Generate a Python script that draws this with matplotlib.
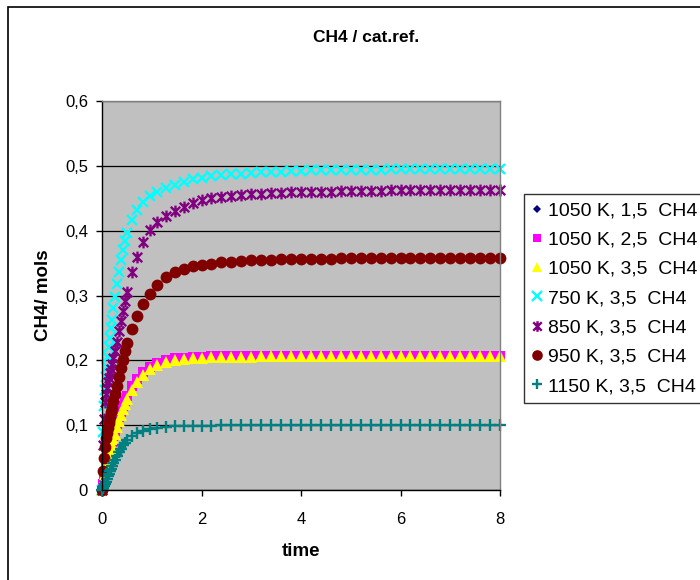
import matplotlib
matplotlib.use("Agg")
import matplotlib.pyplot as plt
from matplotlib.path import Path
from matplotlib.patches import Rectangle

plt.rcParams['font.family'] = ['Liberation Sans', 'DejaVu Sans']

# ---------------- data ----------------
time = [0, 0.02, 0.04, 0.06, 0.08, 0.10, 0.12, 0.14, 0.16, 0.18,
        0.20, 0.23, 0.26, 0.30, 0.34, 0.38, 0.42, 0.46, 0.50, 0.60,
        0.70, 0.82, 0.96, 1.10, 1.28, 1.46, 1.64, 1.82,
        2.0, 2.2, 2.4, 2.6, 2.8, 3.0, 3.2, 3.4, 3.6, 3.8,
        4.0, 4.2, 4.4, 4.6, 4.8, 5.0, 5.2, 5.4, 5.6, 5.8,
        6.0, 6.2, 6.4, 6.6, 6.8, 7.0, 7.2, 7.4, 7.6, 7.8, 8.0]

s1050_15 = [0, 0.009, 0.018, 0.026, 0.034, 0.041, 0.048, 0.055, 0.062, 0.068,
            0.074, 0.083, 0.091, 0.102, 0.112, 0.121, 0.13, 0.137, 0.145, 0.16,
            0.171, 0.182, 0.19, 0.196, 0.2, 0.203, 0.204, 0.205,
            0.2055, 0.206, 0.206, 0.2065, 0.2065, 0.207, 0.207, 0.207, 0.207, 0.207,
            0.207, 0.207, 0.207, 0.207, 0.207, 0.207, 0.207, 0.207, 0.207, 0.207,
            0.207, 0.207, 0.207, 0.207, 0.207, 0.207, 0.207, 0.207, 0.207, 0.207, 0.207]

s1050_25 = [0, 0.009, 0.018, 0.026, 0.034, 0.041, 0.048, 0.055, 0.062, 0.068,
            0.074, 0.083, 0.091, 0.102, 0.112, 0.121, 0.13, 0.137, 0.145, 0.16,
            0.171, 0.182, 0.19, 0.196, 0.2, 0.203, 0.204, 0.205,
            0.2055, 0.206, 0.206, 0.2065, 0.2065, 0.207, 0.207, 0.207, 0.207, 0.207,
            0.207, 0.207, 0.207, 0.207, 0.207, 0.207, 0.207, 0.207, 0.207, 0.207,
            0.207, 0.207, 0.207, 0.207, 0.207, 0.207, 0.207, 0.207, 0.207, 0.207, 0.207]

s1050_35 = [0, 0.008, 0.016, 0.024, 0.031, 0.038, 0.045, 0.051, 0.058, 0.064,
            0.07, 0.079, 0.087, 0.097, 0.107, 0.116, 0.125, 0.132, 0.14, 0.155,
            0.167, 0.178, 0.187, 0.193, 0.197, 0.2, 0.202, 0.203,
            0.204, 0.2045, 0.205, 0.205, 0.2055, 0.2055, 0.206, 0.206, 0.206, 0.206,
            0.206, 0.206, 0.206, 0.206, 0.206, 0.206, 0.206, 0.206, 0.206, 0.206,
            0.206, 0.206, 0.206, 0.206, 0.206, 0.206, 0.206, 0.206, 0.206, 0.206, 0.206]

s750_35 = [0, 0.09, 0.13, 0.155, 0.175, 0.19, 0.205, 0.22, 0.235, 0.25,
           0.262, 0.28, 0.297, 0.318, 0.337, 0.355, 0.37, 0.384, 0.396, 0.417,
           0.432, 0.444, 0.453, 0.46, 0.466, 0.471, 0.475, 0.479,
           0.482, 0.484, 0.486, 0.487, 0.488, 0.489, 0.490, 0.491, 0.491, 0.492,
           0.492, 0.493, 0.493, 0.493, 0.494, 0.494, 0.494, 0.494, 0.494, 0.495,
           0.495, 0.495, 0.495, 0.495, 0.495, 0.495, 0.495, 0.495, 0.495, 0.495, 0.495]

s850_35 = [0, 0.07, 0.11, 0.135, 0.148, 0.158, 0.166, 0.173, 0.18, 0.187,
           0.194, 0.204, 0.215, 0.229, 0.245, 0.26, 0.276, 0.291, 0.306, 0.336,
           0.36, 0.383, 0.401, 0.413, 0.422, 0.43, 0.437, 0.442,
           0.447, 0.450, 0.452, 0.454, 0.455, 0.456, 0.457, 0.458, 0.458, 0.459,
           0.459, 0.460, 0.460, 0.460, 0.461, 0.461, 0.461, 0.461, 0.461, 0.462,
           0.462, 0.462, 0.462, 0.462, 0.462, 0.462, 0.462, 0.462, 0.462, 0.462, 0.462]

s950_35 = [0, 0.03, 0.05, 0.066, 0.08, 0.088, 0.096, 0.104, 0.112, 0.12,
           0.127, 0.137, 0.148, 0.161, 0.175, 0.188, 0.2, 0.214, 0.226, 0.248,
           0.268, 0.287, 0.303, 0.316, 0.329, 0.336, 0.341, 0.345,
           0.347, 0.349, 0.351, 0.352, 0.353, 0.354, 0.355, 0.355, 0.356, 0.356,
           0.357, 0.357, 0.357, 0.357, 0.358, 0.358, 0.358, 0.358, 0.358, 0.358,
           0.358, 0.358, 0.358, 0.358, 0.358, 0.358, 0.358, 0.358, 0.358, 0.358, 0.358]

s1150_35 = [0, 0.003, 0.006, 0.009, 0.013, 0.017, 0.021, 0.025, 0.029, 0.033,
            0.037, 0.042, 0.047, 0.053, 0.059, 0.064, 0.069, 0.073, 0.077, 0.083,
            0.088, 0.091, 0.094, 0.096, 0.097, 0.098, 0.0985, 0.099,
            0.099, 0.099, 0.0995, 0.0995, 0.0995, 0.0995, 0.0995, 0.0995, 0.0995, 0.0995,
            0.0995, 0.0995, 0.0995, 0.0995, 0.0995, 0.0995, 0.0995, 0.0995, 0.0995, 0.0995,
            0.0995, 0.0995, 0.0995, 0.0995, 0.0995, 0.0995, 0.0995, 0.0995, 0.0995, 0.0995, 0.0995]

labels = ["1050 K, 1,5  CH4", "1050 K, 2,5  CH4", "1050 K, 3,5  CH4",
          "750 K, 3,5  CH4", "850 K, 3,5  CH4", "950 K, 3,5  CH4",
          "1150 K, 3,5  CH4"]

yticks = [0, 0.1, 0.2, 0.3, 0.4, 0.5, 0.6]
ytick_labels = ["0", "0,1", "0,2", "0,3", "0,4", "0,5", "0,6"]
xticks = [0, 2, 4, 6, 8]
xtick_labels = ["0", "2", "4", "6", "8"]

# ---------------- styling ----------------
asterisk = Path([(-1, -1), (1, 1), (-1, 1), (1, -1), (0, -1.25), (0, 1.25)],
                [Path.MOVETO, Path.LINETO, Path.MOVETO, Path.LINETO,
                 Path.MOVETO, Path.LINETO])

series = [
    (s1050_15, dict(marker='D', color='#000080', ms=4.5, mew=0)),
    (s1050_25, dict(marker='s', color='#FF00FF', ms=7.0, mew=0)),
    (s1050_35, dict(marker='^', color='#FFFF00', ms=8.0, mew=0)),
    (s750_35, dict(marker='x', color='#00FFFF', ms=7.8, mew=1.7)),
    (s850_35, dict(marker=asterisk, color='#800080', ms=8.5, mew=1.7, mfc='none')),
    (s950_35, dict(marker='o', color='#800000', ms=8.5, mew=0)),
    (s1150_35, dict(marker='+', color='#008080', ms=8.5, mew=1.7)),
]

fig = plt.figure(figsize=(7.0, 5.8), dpi=100)
ax = fig.add_axes([102/700, 1 - 490/580, (500-102)/700, (490-101)/580])
ax.set_facecolor('#C0C0C0')

handles = []
for (vals, st), lab in zip(series, labels):
    h, = ax.plot(time, vals, linestyle='none', label=lab, clip_on=False,
                 markeredgecolor=st['color'],
                 markerfacecolor=st.get('mfc', st['color']),
                 marker=st['marker'], markersize=st['ms'],
                 markeredgewidth=st['mew'])
    handles.append(h)

ax.set_xlim(0, 8)
ax.set_ylim(0, 0.6)
ax.set_xticks(xticks)
ax.set_xticklabels(xtick_labels)
ax.set_yticks(yticks)
ax.set_yticklabels(ytick_labels)
ax.yaxis.grid(True, color='black', linewidth=0.9)
ax.set_axisbelow(True)

for s in ['left', 'bottom']:
    ax.spines[s].set_color('black')
    ax.spines[s].set_linewidth(1.0)
for s in ['top', 'right']:
    ax.spines[s].set_color('#808080')
    ax.spines[s].set_linewidth(1.0)

ax.tick_params(axis='both', direction='out', length=4, width=1,
               labelsize=12, colors='black')
ax.tick_params(axis='y', pad=6)
ax.tick_params(axis='x', pad=12)

ax.set_xlabel('time', fontsize=13.5, fontweight='bold', labelpad=11)
ax.set_ylabel('CH4/ mols', fontsize=13.5, fontweight='bold', labelpad=9)
fig.text(366/700, 1 - 37/580, 'CH4 / cat.ref.', fontsize=12.5,
         fontweight='bold', ha='center', va='center')

leg = fig.legend(handles=handles, labels=labels,
                 loc='upper left', bbox_to_anchor=(524/700, 1 - 194/580),
                 fontsize=14, frameon=True, fancybox=False, shadow=False,
                 handlelength=0.55, handletextpad=0.3, labelspacing=0.6,
                 borderpad=0.4, borderaxespad=0, markerscale=0.9)
leg.get_frame().set_edgecolor('black')
leg.get_frame().set_linewidth(1.0)
leg.get_frame().set_facecolor('white')

# figure border (chart area frame)
fig.patches.append(Rectangle((8/700, -0.1), 1.2, 1 - 7/580 + 0.1,
                             transform=fig.transFigure, fill=False,
                             edgecolor='black', linewidth=1.2, zorder=0))

fig.savefig('out.png', dpi=100)
